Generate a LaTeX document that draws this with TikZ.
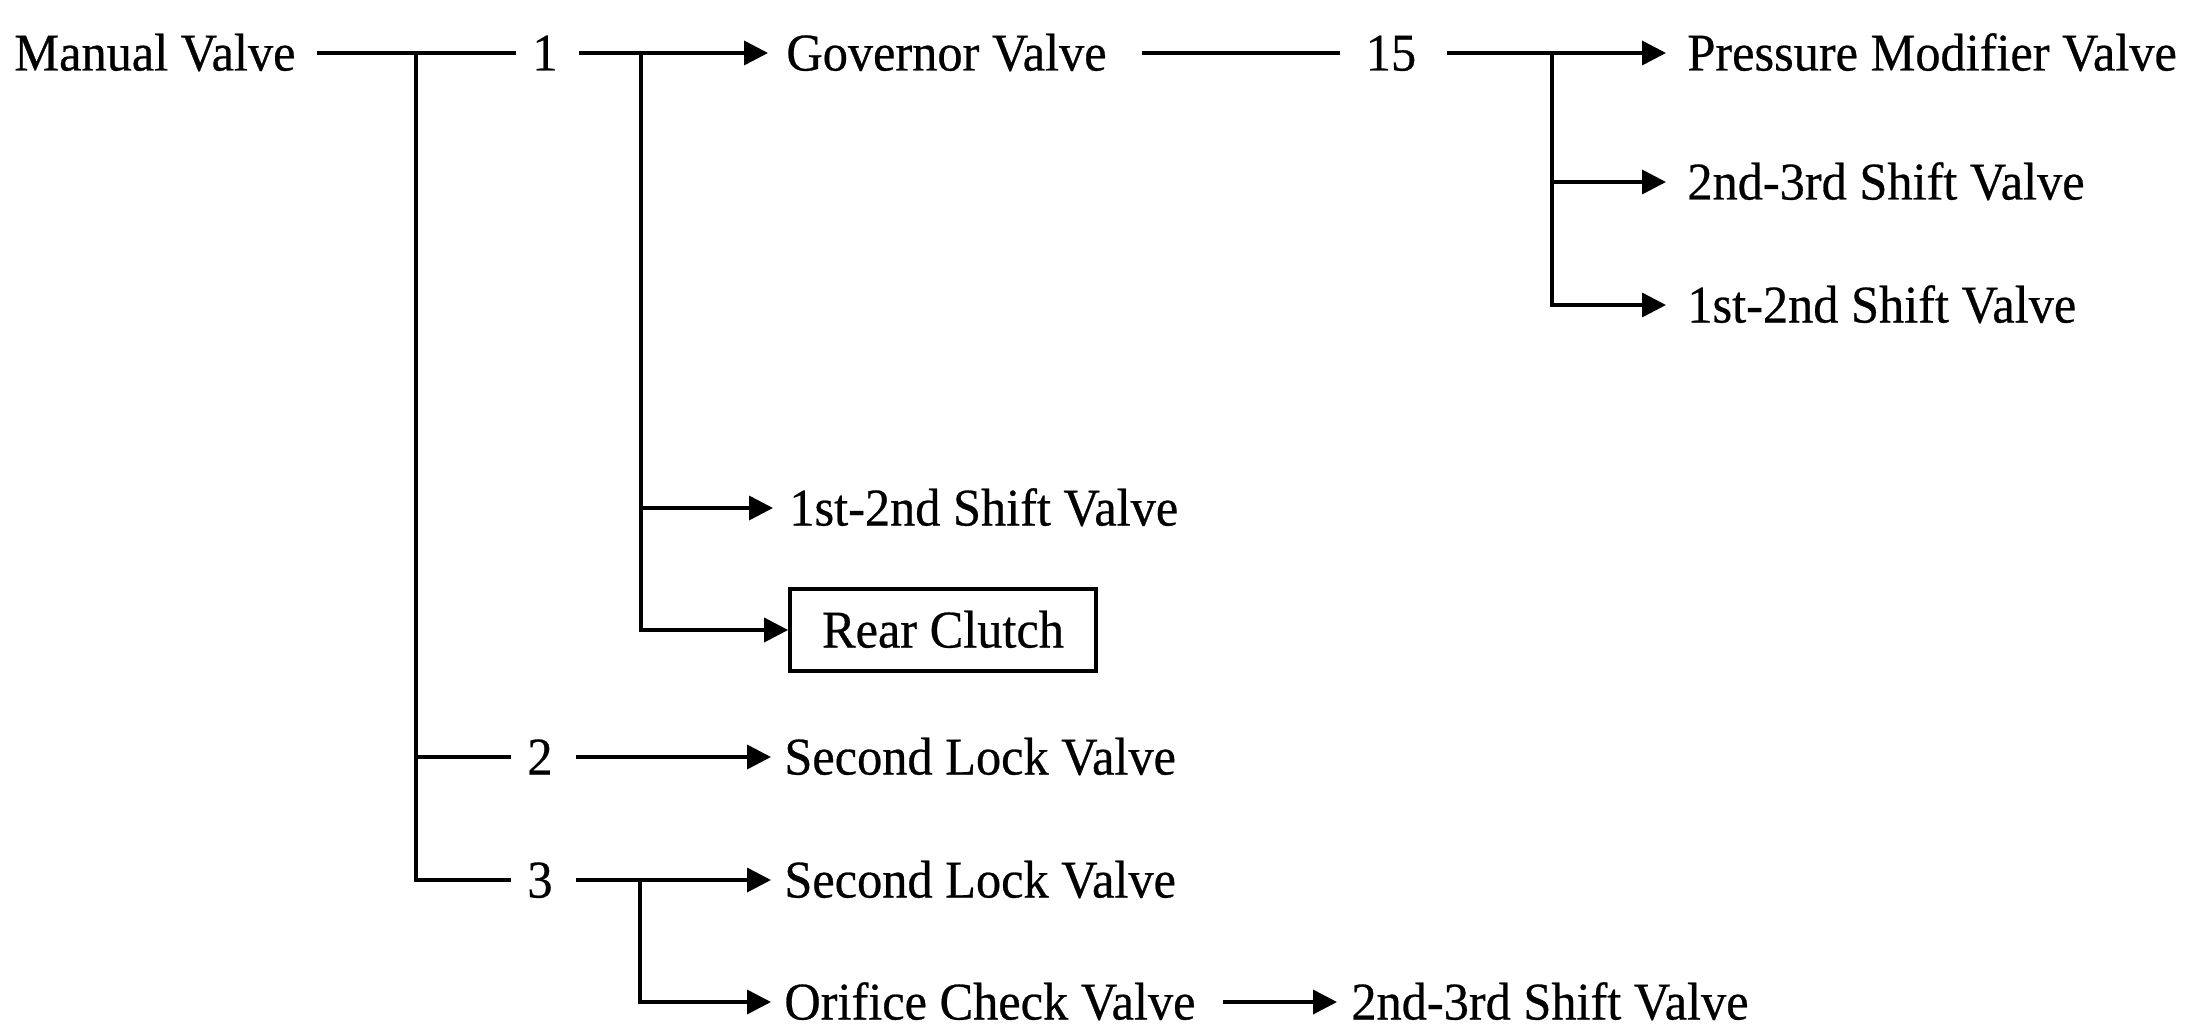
\documentclass[tikz,border=0pt]{standalone}
\usepackage{fontspec}
\setmainfont{Liberation Serif}[FakeStretch=0.95,FakeBold=0.5]
\usetikzlibrary{arrows.meta}
\begin{document}
\begin{tikzpicture}[x=0.5pt,y=-0.5pt,
  txt/.style={inner sep=0pt,text height=17.5pt,text depth=0pt,font=\fontsize{26.5}{30}\selectfont},
  lab/.style={txt,anchor=west},
  num/.style={txt,anchor=center},
  boxnode/.style={txt,draw,line width=1.9pt,minimum width=153pt,minimum height=41pt},
  conn/.style={line width=1.8pt},
  arr/.style={line width=1.8pt,-{Triangle[length=12pt,width=12pt]}}]
\useasboundingbox (0,0) rectangle (2195,1032);
\node[lab] (mv) at (14,53) {Manual Valve};
\node[num] (n1) at (545,53) {1};
\node[lab] (gov) at (786,53) {Governor Valve};
\node[num] (n15) at (1391,53) {15};
\node[lab] (pmv) at (1687,53) {Pressure Modifier Valve};
\node[lab] (s23a) at (1687,182) {2nd-3rd Shift Valve};
\node[lab] (s12a) at (1687,305) {1st-2nd Shift Valve};
\node[lab] (s12b) at (789,508) {1st-2nd Shift Valve};
\node[boxnode] (rc) at (943,630) {Rear Clutch};
\node[num] (n2) at (540,757) {2};
\node[lab] (slv1) at (784,757) {Second Lock Valve};
\node[num] (n3) at (540,880) {3};
\node[lab] (slv2) at (784,880) {Second Lock Valve};
\node[lab] (ocv) at (784,1002) {Orifice Check Valve};
\node[lab] (s23b) at (1351,1002) {2nd-3rd Shift Valve};
\coordinate (b1) at (416,53);
\coordinate (b2) at (641,53);
\coordinate (b3) at (1552,53);
\coordinate (b4) at (640,880);
% Manual valve to 1
\draw[conn] ([xshift=10.5pt]mv.east) -- ([xshift=-8pt]n1.west);
\draw[conn] (b1) |- ([xshift=-8pt]n3.west);
\draw[conn] (b1 |- n2) -- ([xshift=-8pt]n2.west);
% 1 to governor
\draw[arr] ([xshift=10.5pt]n1.east) -- ([xshift=-9pt]gov.west);
\draw[arr] (b2) |- ([xshift=-8pt]s12b.west);
\draw[arr] (b2) |- (rc.west);
% governor to 15
\draw[conn] ([xshift=17.5pt]gov.east) -- ([xshift=-12.5pt]n15.west);
\draw[arr] ([xshift=15pt]n15.east) -- ([xshift=-10.5pt]pmv.west);
\draw[arr] (b3) |- ([xshift=-10.5pt]s23a.west);
\draw[arr] (b3) |- ([xshift=-10.5pt]s12a.west);
% 2 and 3
\draw[arr] ([xshift=11.5pt]n2.east) -- ([xshift=-6.5pt]slv1.west);
\draw[arr] ([xshift=11.5pt]n3.east) -- ([xshift=-6.5pt]slv2.west);
\draw[arr] (b4) |- ([xshift=-6.5pt]ocv.west);
\draw[arr] ([xshift=13.5pt]ocv.east) -- ([xshift=-7pt]s23b.west);
\end{tikzpicture}
\end{document}
